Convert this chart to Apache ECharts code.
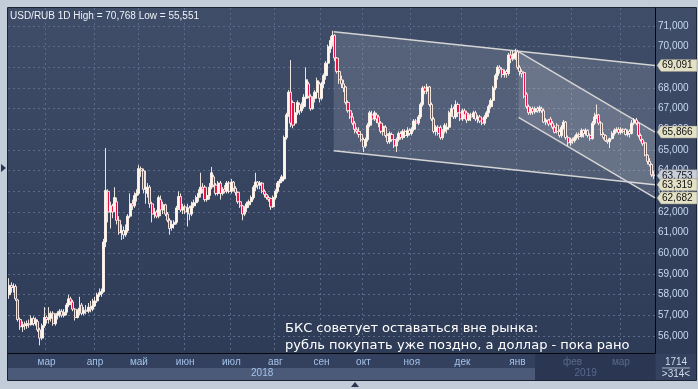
<!DOCTYPE html>
<html><head><meta charset="utf-8">
<script src="https://cdn.jsdelivr.net/npm/echarts@6/dist/echarts.min.js"></script>
<style>html,body{margin:0;padding:0;background:#c3cdda;overflow:hidden}#c{width:698px;height:389px}</style>
</head><body><div id="c"></div>
<script>
const chartTitle = 'USD/RUB 1D High = 70,768 Low = 55,551';
// daily candles: [open, close, low, high]
const candles = [
[58.0,58.45,57.8,58.8],[58.45,58.35,58.1,58.6],[58.35,58.4,58.1,58.55],[58.4,57.8,57.7,58.5],[57.75,56.8,56.7,57.8],
[56.8,56.45,56.3,56.9],[56.45,56.55,56.2,56.7],[56.55,56.5,56.3,56.7],[56.5,56.6,56.35,56.75],[56.6,56.55,56.4,56.8],
[56.55,56.85,56.5,57.0],[56.85,56.6,56.5,56.95],[56.6,56.8,56.5,56.9],[56.7,56.3,56.2,56.8],[56.3,55.9,55.55,56.4],
[55.9,56.5,55.8,56.6],[56.5,56.9,56.4,57.4],[56.9,56.8,56.6,57.0],[56.8,56.85,56.6,57.4],[56.85,57.1,56.7,57.2],
[57.1,56.6,56.5,57.2],[56.6,57.0,56.5,57.1],[57.0,57.1,56.8,57.2],[57.05,57.2,56.9,57.3],[57.2,57.0,56.9,57.3],
[57.0,57.15,56.9,57.3],[57.15,57.5,57.0,57.6],[57.5,57.8,57.4,58.0],[57.8,57.65,57.5,57.9],[57.65,57.3,57.2,57.75],
[57.3,56.9,56.75,57.35],[56.9,57.2,56.85,57.3],[57.2,57.35,57.0,57.9],[57.5,57.1,57.0,57.6],[57.1,57.25,57.0,57.4],
[57.25,57.2,57.05,57.5],[57.2,57.4,57.1,57.6],[57.35,57.3,57.15,57.7],[57.3,57.45,57.2,57.8],[57.45,57.7,57.4,57.9],
[57.7,58.0,57.6,58.1],[58.0,58.1,57.9,58.3],[58.05,58.15,57.9,58.3],[58.15,60.55,58.1,60.7],[60.55,63.05,60.3,65.1],
[63.0,62.0,61.5,63.1],[62.0,62.3,61.2,62.5],[62.3,62.0,61.7,62.4],[62.1,62.7,62.0,63.2],[62.5,61.6,61.4,62.7],
[61.6,61.0,60.9,61.8],[61.0,61.1,60.65,61.4],[61.1,60.9,60.7,61.3],[60.9,61.1,60.8,61.4],[61.1,61.8,61.0,61.9],
[61.8,62.4,61.7,62.9],[62.4,62.3,62.1,62.6],[62.3,62.8,62.2,62.95],[62.8,62.9,62.5,63.1],[62.9,64.1,62.8,64.27],
[64.1,64.0,63.7,64.2],[64.0,63.1,62.9,64.1],[63.1,63.2,62.4,64.0],[62.9,63.2,62.7,63.4],[63.2,62.4,62.2,63.3],
[62.4,61.9,61.5,62.5],[61.9,62.0,61.7,62.2],[62.0,61.8,61.7,62.1],[61.8,62.7,61.7,62.8],[62.6,62.1,61.8,62.8],
[62.1,62.35,61.9,62.5],[62.35,61.9,61.8,62.4],[61.9,61.6,61.5,62.0],[61.6,61.2,60.9,61.7],[61.25,61.4,61.1,61.6],
[61.4,61.5,61.2,61.6],[61.5,62.2,61.4,62.3],[62.2,62.75,62.1,63.0],[62.75,62.1,62.0,62.9],[62.1,62.25,61.9,62.4],
[62.25,62.0,61.9,62.35],[62.0,62.2,61.3,62.4],[62.2,61.9,61.6,62.3],[61.9,62.3,61.8,62.5],[62.3,62.45,62.2,62.6],
[62.45,62.7,62.3,62.8],[62.7,62.9,62.5,63.1],[62.9,63.2,62.7,63.9],[63.2,63.1,62.9,63.4],[63.2,62.6,62.5,63.3],
[62.6,62.8,62.5,63.0],[62.8,63.2,62.6,63.4],[63.2,63.9,63.1,64.18],[63.7,63.3,63.2,63.8],[63.3,62.9,62.8,63.4],
[62.9,63.4,62.8,63.5],[63.4,62.9,62.6,63.5],[62.9,63.1,62.8,63.2],[63.1,63.0,62.9,63.3],[63.0,63.4,62.9,63.5],
[63.4,63.0,62.9,63.5],[63.0,63.45,62.9,63.6],[63.45,63.15,63.0,63.5],[63.15,62.95,62.8,63.25],[62.95,62.5,62.4,63.0],
[62.5,62.3,62.2,62.6],[62.3,61.9,61.6,62.35],[61.9,62.2,61.8,62.3],[62.2,62.4,62.0,62.5],[62.35,62.5,62.2,62.6],
[62.5,62.7,62.4,62.8],[62.7,63.2,62.6,63.3],[63.2,63.45,63.0,63.9],[63.45,63.3,63.1,63.5],[63.3,63.4,63.1,63.5],
[63.4,63.0,62.9,63.45],[63.0,62.85,62.7,63.1],[62.85,62.7,62.6,62.9],[62.7,62.6,62.5,62.8],[62.65,62.25,62.1,62.7],
[62.25,62.7,62.2,62.8],[62.7,63.0,62.6,63.1],[63.0,63.4,62.9,63.5],[63.4,63.5,63.2,63.6],[63.5,63.7,63.4,63.8],
[63.6,65.6,63.5,65.7],[65.6,66.7,65.5,66.8],[66.7,67.8,66.6,67.9],[67.8,66.3,66.1,69.35],[67.3,66.2,66.05,67.4],
[66.3,66.8,66.2,67.0],[66.8,67.3,66.7,67.4],[67.2,66.9,66.7,67.3],[66.9,67.1,66.8,67.3],[67.1,67.55,67.0,67.7],
[67.5,68.4,67.3,69.0],[68.2,67.6,67.5,68.3],[67.6,67.0,66.9,67.7],[67.0,67.5,66.95,67.6],[67.5,67.8,67.3,67.9],
[67.8,68.35,67.6,68.5],[68.2,67.5,67.3,68.3],[67.5,68.2,67.4,68.3],[68.2,68.6,68.0,68.7],[68.6,69.2,68.4,69.3],
[69.2,70.0,69.0,70.1],[69.9,70.3,69.7,70.5],[70.2,70.55,70.0,70.77],[70.55,69.45,69.3,70.6],[69.45,68.8,68.7,69.5],
[68.8,68.4,68.2,68.9],[68.4,68.2,68.0,68.6],[68.2,68.0,67.8,68.4],[68.05,67.3,67.2,68.1],[67.3,66.9,66.8,67.4],
[66.9,66.6,66.5,67.0],[66.6,66.3,66.2,66.8],[66.3,66.0,65.8,66.4],[66.0,65.9,65.8,66.1],[65.9,65.75,65.6,66.1],
[65.75,65.5,65.4,65.8],[65.5,65.15,64.9,65.6],[65.2,65.5,65.1,65.6],[65.5,66.2,65.4,66.3],[66.2,66.8,66.1,66.9],
[66.7,66.5,66.3,66.9],[66.5,66.8,66.4,66.9],[66.7,66.5,66.3,66.8],[66.6,66.3,66.1,66.7],[66.3,65.9,65.8,66.4],
[65.9,66.15,65.7,66.3],[66.1,65.7,65.6,66.2],[65.7,65.4,65.3,65.8],[65.4,65.8,65.3,65.9],[65.75,65.5,65.4,65.85],
[65.5,65.2,65.1,65.6],[65.2,65.5,64.9,65.6],[65.5,65.8,65.4,65.9],[65.8,65.6,65.5,65.9],[65.6,65.9,65.5,66.0],
[65.9,65.7,65.6,66.0],[65.7,65.95,65.6,66.1],[65.95,65.8,65.7,66.05],[65.8,66.0,65.7,66.1],[66.0,66.4,65.9,66.5],
[66.4,66.3,66.1,66.5],[66.3,66.6,66.2,66.7],[66.6,67.2,66.5,67.3],[67.2,68.0,67.1,68.1],[68.0,67.85,67.7,68.1],
[67.85,68.05,67.7,68.2],[68.05,67.2,67.1,68.1],[67.2,66.5,66.4,67.3],[66.5,65.9,65.8,66.6],[65.9,66.1,65.7,66.2],
[66.1,65.8,65.7,66.2],[66.1,65.6,65.5,66.2],[65.6,65.9,65.5,66.0],[65.9,66.2,65.8,66.3],[66.0,66.1,65.8,66.3],
[66.1,66.8,66.0,66.9],[66.8,67.0,66.6,67.2],[67.0,66.6,66.5,67.1],[66.6,67.2,66.5,67.4],[67.2,66.8,66.6,67.3],
[66.8,66.5,66.4,66.9],[66.5,66.9,66.4,67.0],[66.9,66.7,66.5,67.0],[66.8,66.45,66.3,66.9],[66.45,66.7,66.4,66.8],
[66.7,66.6,66.4,66.8],[66.6,66.8,66.5,66.9],[66.8,66.5,66.4,66.9],[66.5,66.6,66.3,66.7],[66.6,66.4,66.3,66.7],
[66.5,66.3,66.2,66.6],[66.3,66.6,66.2,66.7],[66.6,66.8,66.5,66.9],[66.8,67.1,66.6,67.2],[67.1,67.4,67.0,67.5],
[67.4,68.0,67.3,68.1],[68.0,68.6,67.9,68.7],[68.6,69.0,68.4,69.1],[69.0,68.9,68.7,69.1],[68.9,68.65,68.5,69.0],
[68.65,68.8,68.5,68.9],[68.8,68.7,68.5,68.9],[68.7,69.6,68.6,69.7],[69.6,69.4,69.2,69.8],[69.4,69.65,69.3,69.8],
[69.5,69.7,69.35,69.9],[69.75,69.0,68.9,69.85],[69.0,68.8,68.6,69.1],[68.8,68.7,68.5,68.9],[68.75,67.6,67.5,68.8],
[67.7,67.1,67.0,67.8],[67.1,66.8,66.7,67.2],[66.8,67.0,66.7,67.1],[67.0,66.85,66.7,67.1],[66.85,67.0,66.75,67.1],
[67.0,66.9,66.8,67.1],[66.9,67.05,66.8,67.15],[67.0,66.9,66.8,67.1],[66.9,66.35,66.3,67.0],[66.35,66.45,66.2,66.55],
[66.45,66.25,66.15,66.5],[66.5,66.3,66.2,66.6],[66.3,66.1,66.0,66.4],[66.1,65.85,65.8,66.2],[66.2,65.9,65.8,66.3],
[65.9,65.7,65.6,66.0],[65.7,66.1,65.6,66.2],[66.1,66.35,66.0,66.45],[66.35,65.6,65.5,66.4],[65.6,65.35,65.2,65.7],
[65.35,65.5,65.2,65.6],[65.5,65.45,65.3,65.6],[65.45,65.6,65.35,65.7],[65.6,65.75,65.5,65.85],[65.75,65.65,65.5,65.85],
[65.65,65.95,65.6,66.05],[65.95,65.8,65.6,66.0],[65.8,65.95,65.7,66.05],[65.95,65.7,65.6,66.0],[65.7,65.55,65.45,65.8],
[65.55,66.3,65.5,66.4],[66.3,66.6,66.2,66.8],[66.6,66.7,66.5,67.2],[66.7,66.3,66.2,66.75],[66.3,65.75,65.7,66.4],
[65.75,65.6,65.5,65.85],[65.7,65.45,65.4,65.75],[65.45,65.4,65.3,65.5],[65.4,65.55,65.1,65.6],[65.55,65.8,65.5,65.9],
[65.8,65.95,65.7,66.05],[65.95,66.0,65.85,66.1],[66.0,65.85,65.75,66.1],[65.85,66.0,65.75,66.1],[66.0,65.9,65.8,66.05],
[66.0,65.75,65.7,66.05],[65.75,65.9,65.65,66.0],[65.9,65.8,65.6,66.0],[65.8,66.3,65.75,66.45],[66.3,66.45,66.2,66.55],
[66.45,66.3,66.2,66.55],[66.3,65.7,65.6,66.35],[65.7,65.5,65.4,65.8],[65.5,65.3,65.2,65.55],[65.35,64.75,64.7,65.4],
[64.75,64.45,64.3,64.8],[64.45,64.3,64.2,64.6],[64.3,63.8,63.7,64.35],[63.8,63.753,63.6,64.0]
];
const monthLabels = ['мар','апр','май','июн','июл','авг','сен','окт','ноя','дек','янв','фев','мар'];
const monthStartIdx = [17,39,59,80,101,121,142,161,183,206,231,256,278];
const yearLabels = ['2018','2019'];
const yearLabelIdx = [115,262];
const futureFromIdx = 256;           // months drawn dimmed on the axis
const priceTicks = [56,57,58,59,60,61,62,63,64,65,66,67,68,69,70,71];
const yMin = 55.18, yMax = 71.87;
// trend channels: start index, [top start, top end], [bottom start, bottom end]
const channelStart = [148, 232];
const channelTop = [[70.72, 69.091],[69.76, 65.866]];
const channelBottom = [[64.97, 63.319],[66.58, 62.682]];
const priceTags = [69.091, 65.866, 63.753, 63.319, 62.682];
const lastPrice = 63.753;
const noteLines = ['БКС советует оставаться вне рынка:', 'рубль покупать уже поздно, а доллар - пока рано'];
const barsInfo = ['1714', '>314<'];

const fmt = v => v.toFixed(3).replace('.', ',');
const cats = candles.map((_, i) => String(i));
const lastIdx = candles.length - 1;
const chart = echarts.init(document.getElementById('c'), null, {renderer: 'canvas'});

const channelData = channelStart.map((s, k) => [s, channelTop[k][0], channelTop[k][1], channelBottom[k][0], channelBottom[k][1]]);

chart.setOption({
  animation: false,
  backgroundColor: '#c3cdda',
  grid: {left: 8, right: 43, top: 8, bottom: 36, containLabel: false},
  xAxis: [{
    type: 'category', data: cats, boundaryGap: true, position: 'bottom',
    axisLine: {show: true, lineStyle: {color: '#05070c', width: 1}},
    axisTick: {show: false},
    axisLabel: {
      interval: (i) => monthStartIdx.includes(i),
      formatter: (v) => monthLabels[monthStartIdx.indexOf(+v)],
      color: (v) => (+v >= futureFromIdx ? '#5a6a8c' : '#a4c2ea'),
      fontSize: 10, fontFamily: 'Liberation Sans', margin: 4
    },
    splitLine: {show: true, interval: (i) => monthStartIdx.includes(i),
      lineStyle: {color: '#5b6a88', width: 1, type: [2, 3]}}
  }, {
    type: 'category', data: cats, boundaryGap: true, position: 'bottom', offset: 13,
    axisLine: {show: false}, axisTick: {show: false}, splitLine: {show: false},
    axisLabel: {
      interval: (i) => yearLabelIdx.includes(i),
      formatter: (v) => yearLabels[yearLabelIdx.indexOf(+v)],
      color: (v) => (+v >= futureFromIdx ? '#5a6a8c' : '#a4c2ea'),
      fontSize: 10, fontFamily: 'Liberation Sans', margin: 2
    }
  }],
  yAxis: {
    type: 'value', position: 'right', min: yMin, max: yMax, scale: true,
    axisLine: {show: true, lineStyle: {color: '#05070c', width: 1}},
    axisTick: {show: false, customValues: priceTicks},
    axisLabel: {customValues: priceTicks, formatter: fmt, color: '#c9d8f0', fontSize: 10,
      fontFamily: 'Liberation Sans', margin: 3},
    splitLine: {show: true, lineStyle: {color: '#5b6a88', width: 1, type: [2, 3]}}
  },
  series: [{
    type: 'custom', silent: true, clip: false, z: 1,
    encode: {x: 0, y: 1},
    data: channelData,
    renderItem(params, api) {
      const cs = params.coordSys;
      const x0 = api.coord([api.value(0), api.value(1)])[0] - api.size([1, 0])[0] / 2;
      const x1 = cs.x + cs.width;
      const Y = (p) => api.coord([0, p])[1];
      const t0 = [x0, Y(api.value(1))], t1 = [x1, Y(api.value(2))];
      const b0 = [x0, Y(api.value(3))], b1 = [x1, Y(api.value(4))];
      return {type: 'group', children: [
        {type: 'polygon', shape: {points: [t0, t1, b1, b0]}, style: {fill: 'rgba(255,255,255,0.13)'}},
        {type: 'line', shape: {x1: t0[0], y1: t0[1], x2: t1[0], y2: t1[1]}, style: {stroke: '#d4d4d4', lineWidth: 1.5}},
        {type: 'line', shape: {x1: b0[0], y1: b0[1], x2: b1[0], y2: b1[1]}, style: {stroke: '#d4d4d4', lineWidth: 1.5}}
      ]};
    }
  }, {
    type: 'candlestick', data: candles, barWidth: 2.6, z: 3,
    itemStyle: {color: '#fff6ec', color0: '#e3154a', borderColor: '#fff6ec', borderColor0: '#fff6ec', borderWidth: 0.9}
  }, {
    type: 'custom', silent: true, clip: false, z: 10,
    encode: {x: 0, y: 1},
    data: priceTags.map(v => [lastIdx, v]),
    renderItem(params, api) {
      const cs = params.coordSys;
      const x = cs.x + cs.width + 2;
      const v = api.value(1);
      const y = api.coord([lastIdx, v])[1];
      const isLast = Math.abs(v - lastPrice) < 1e-6;
      return {type: 'group', children: [
        {type: 'polygon', shape: {points: [[x, y], [x + 4, y - 6], [x + 40, y - 6], [x + 40, y + 6], [x + 4, y + 6]]},
          style: {fill: isLast ? '#c8cedb' : '#e3e1c6', stroke: '#8e8e80', lineWidth: 0.5}},
        {type: 'text', style: {x: x + 5, y: y, text: fmt(v), fill: '#101010', font: '10px "Liberation Sans"', textVerticalAlign: 'middle'}}
      ]};
    }
  }],
  graphic: [
    {type: 'rect', z: -100, shape: {x: 8, y: 8, width: 688, height: 372},
      style: {fill: new echarts.graphic.LinearGradient(0, 0, 0, 1, [{offset: 0, color: '#3f4d69'}, {offset: 1, color: '#2d3a56'}])}},
    {type: 'rect', z: -90, shape: {x: 8, y: 354, width: 647, height: 14}, style: {fill: '#33415e'}},
    {type: 'rect', z: -90, shape: {x: 8, y: 368, width: 647, height: 12}, style: {fill: '#4b5a78'}},
    {type: 'rect', z: -89, shape: {x: 535, y: 354, width: 120, height: 26}, style: {fill: '#2b3752'}},
    {type: 'rect', z: -89, shape: {x: 656, y: 354, width: 40, height: 26}, style: {fill: '#34425f'}},
    {type: 'rect', z: -80, shape: {x: 7.5, y: 7.5, width: 689, height: 373}, style: {fill: null, stroke: '#1b2233', lineWidth: 1}},
    {type: 'text', z: 100, style: {x: 10, y: 16, text: chartTitle, fill: '#eef2f8', font: '10px "Liberation Sans"', textVerticalAlign: 'middle'}},
    {type: 'text', z: 100, style: {x: 285, y: 329, text: noteLines[0], fill: '#ffffff', font: '13px "DejaVu Sans"', textVerticalAlign: 'middle'}},
    {type: 'text', z: 100, style: {x: 285, y: 346, text: noteLines[1], fill: '#ffffff', font: '13px "DejaVu Sans"', textVerticalAlign: 'middle'}},
    {type: 'text', z: 100, style: {x: 676, y: 362, text: barsInfo[0], fill: '#d4dcea', font: '10px "Liberation Sans"', textAlign: 'center', textVerticalAlign: 'middle'}},
    {type: 'line', z: 100, shape: {x1: 662, y1: 368, x2: 690, y2: 368}, style: {stroke: '#aab6c8', lineWidth: 1}},
    {type: 'text', z: 100, style: {x: 676, y: 374, text: barsInfo[1], fill: '#d4dcea', font: '10px "Liberation Sans"', textAlign: 'center', textVerticalAlign: 'middle'}},
    {type: 'polygon', z: 100, shape: {points: [[1, 164], [6, 168], [1, 172]]}, style: {fill: '#2a3450'}},
    {type: 'polygon', z: 100, shape: {points: [[351, 387], [355, 382], [359, 387]]}, style: {fill: '#2a3450'}}
  ]
});
</script></body></html>
